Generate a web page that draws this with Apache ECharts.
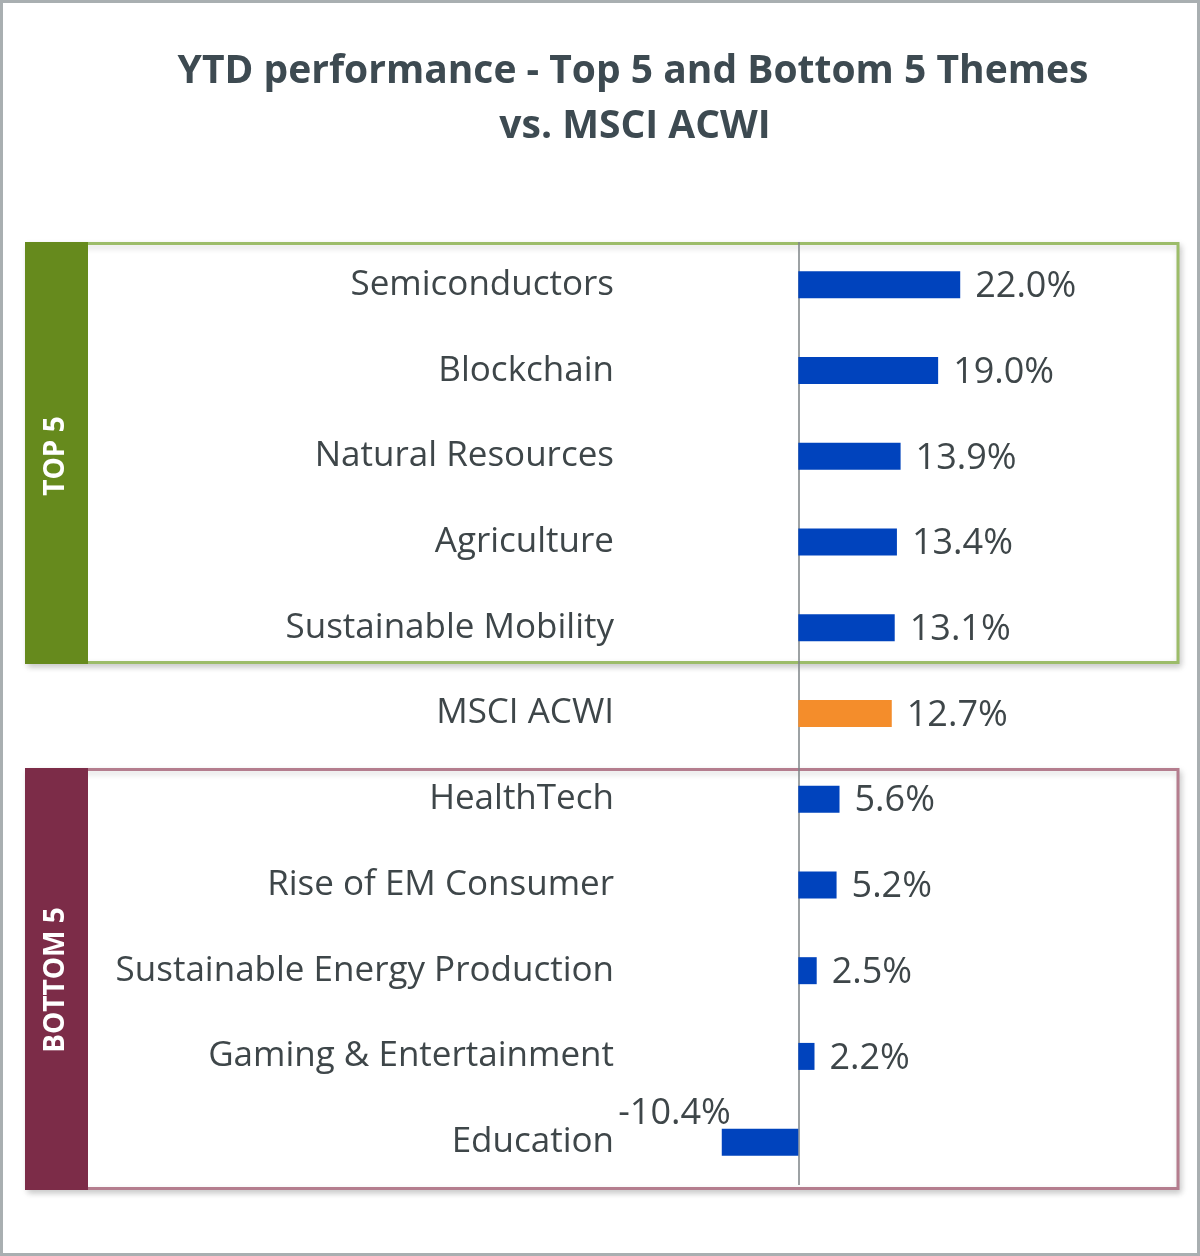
<!DOCTYPE html>
<html>
<head>
<meta charset="utf-8">
<title>YTD performance</title>
<style>
  html, body { margin: 0; padding: 0; background: #fff; }
  #main { width: 1200px; height: 1256px; }
</style>
</head>
<body>
<div id="main"></div>
<script src="https://cdn.jsdelivr.net/npm/echarts@6/dist/echarts.min.js"></script>
<script type="text/javascript">
// 数据
var themes = ['Semiconductors', 'Blockchain', 'Natural Resources', 'Agriculture', 'Sustainable Mobility',
    'MSCI ACWI',
    'HealthTech', 'Rise of EM Consumer', 'Sustainable Energy Production', 'Gaming & Entertainment', 'Education'];
var ytdReturn = [22.0, 19.0, 13.9, 13.4, 13.1, 12.7, 5.6, 5.2, 2.5, 2.2, -10.4];
var benchmarkName = 'MSCI ACWI';
var groupNames = ['TOP 5', 'BOTTOM 5'];

var textColor = '#3e4649';
var blue = '#0043bd';
var orange = '#f48d2b';

var myChart = echarts.init(document.getElementById('main'), null, { renderer: 'canvas' });

var barData = [];
for (var i = 0; i < themes.length; i++) {
    var item = {
        value: ytdReturn[i],
        itemStyle: { color: themes[i] === benchmarkName ? orange : blue }
    };
    if (ytdReturn[i] < 0) {
        // excel 把负值标签放在柱子左上方
        item.label = { position: 'left', distance: 0, offset: [9, -28] };
    }
    barData.push(item);
}

myChart.setOption({
    animation: false,
    backgroundColor: '#fff',
    grid: { left: 618, right: 19, top: 242, bottom: 71, containLabel: false },
    xAxis: {
        type: 'value',
        min: -24.5,
        max: 52,
        show: false
    },
    yAxis: {
        type: 'category',
        data: themes,
        inverse: true,
        axisLine: { show: false },
        axisTick: { show: false },
        axisLabel: {
            margin: 4,
            color: textColor,
            fontFamily: 'Open Sans',
            fontSize: 35
        }
    },
    graphic: [
        // 外框
        { type: 'rect', z: 0, shape: { x: 1.5, y: 1.5, width: 1197, height: 1253 },
          style: { fill: 'none', stroke: '#a9afb1', lineWidth: 3 } },
        // 标题
        { type: 'text', z: 10, x: 633, y: 72,
          style: { text: 'YTD performance - Top 5 and Bottom 5 Themes', fill: '#3d4a51',
                   font: 'bold 39px "Open Sans"', align: 'center', verticalAlign: 'middle' } },
        { type: 'text', z: 10, x: 635, y: 127,
          style: { text: 'vs. MSCI ACWI', fill: '#3d4a51',
                   font: 'bold 39px "Open Sans"', align: 'center', verticalAlign: 'middle' } },
        // TOP 5 框
        { type: 'rect', z: 0, shape: { x: 27, y: 243.5, width: 1151, height: 419 },
          style: { fill: '#fff', stroke: '#9cbc69', lineWidth: 3,
                   shadowBlur: 6, shadowColor: 'rgba(0,0,0,0.18)', shadowOffsetX: 2, shadowOffsetY: 3 } },
        { type: 'rect', z: 1, shape: { x: 25, y: 242, width: 63, height: 422 },
          style: { fill: '#668a1d' } },
        { type: 'text', z: 10, x: 56, y: 456, rotation: Math.PI / 2,
          style: { text: groupNames[0], fill: '#fff', font: 'bold 28px "Open Sans"',
                   align: 'center', verticalAlign: 'middle' } },
        // BOTTOM 5 框
        { type: 'rect', z: 0, shape: { x: 27, y: 769.5, width: 1151, height: 419 },
          style: { fill: '#fff', stroke: '#b47d8e', lineWidth: 3,
                   shadowBlur: 6, shadowColor: 'rgba(0,0,0,0.18)', shadowOffsetX: 2, shadowOffsetY: 3 } },
        { type: 'rect', z: 1, shape: { x: 25, y: 768, width: 63, height: 422 },
          style: { fill: '#7c2c48' } },
        { type: 'text', z: 10, x: 56, y: 980, rotation: Math.PI / 2,
          style: { text: groupNames[1], fill: '#fff', font: 'bold 28px "Open Sans"',
                   align: 'center', verticalAlign: 'middle' } }
    ],
    series: [{
        type: 'bar',
        data: barData,
        barWidth: 27,
        z: 5,
        label: {
            show: true,
            position: 'right',
            distance: 15,
            offset: [0, 2],
            color: textColor,
            fontFamily: 'Open Sans',
            fontSize: 36,
            formatter: function (p) { return p.value.toFixed(1) + '%'; }
        },
        markLine: {
            silent: true,
            symbol: 'none',
            label: { show: false },
            lineStyle: { color: '#7d8386', width: 1.5, type: 'solid' },
            data: [{ xAxis: 0 }]
        }
    }]
});
</script>
</body>
</html>
